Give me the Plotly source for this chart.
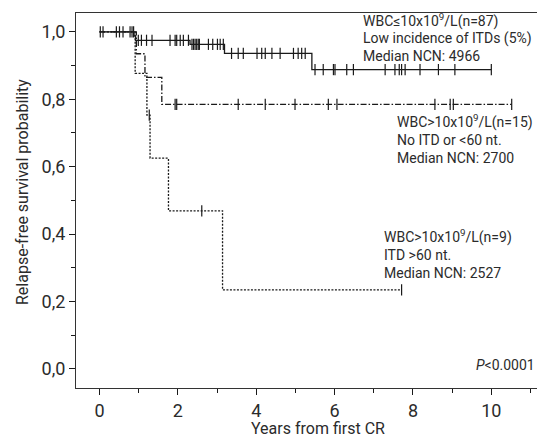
import plotly.graph_objects as go
import numpy as np

# ---- data ----
# Curve A: WBC<=10x10^9/L (n=87), solid
a_time = [0.0, 0.88, 0.92, 2.31, 3.19, 5.42, 10.0]
a_surv = [1.0, 0.988, 0.975, 0.963, 0.936, 0.888, 0.888]
a_cens = [0.02, 0.09, 0.43, 0.51, 0.60, 0.78, 0.83, 0.87,
          0.99, 1.07, 1.20, 1.34, 1.80, 1.93, 1.97, 2.06, 2.14, 2.27,
          2.36, 2.40, 2.44, 2.48, 2.52, 2.55,
          2.78, 2.89, 3.01, 3.08, 3.16,
          3.37, 3.54, 3.67, 4.02, 4.14, 4.23, 4.40, 4.61, 4.95, 5.07, 5.16, 5.25,
          5.50, 5.71, 5.97, 6.01, 6.31, 6.48, 7.29, 7.54, 7.65, 7.71, 7.80,
          8.18, 8.65, 9.07, 10.0]

# Curve B: WBC>10x10^9/L (n=15), no ITD or <60 nt, dash-dot
b_time = [0.0, 0.94, 1.16, 1.59, 10.52]
b_surv = [1.0, 0.935, 0.865, 0.785, 0.785]
b_cens = [1.93, 1.97, 3.54, 4.23, 4.99, 5.84, 6.06, 8.56, 8.95, 9.03, 10.52]

# Curve C: WBC>10x10^9/L (n=9), ITD >60 nt, dotted
c_time = [0.0, 0.91, 1.21, 1.29, 1.76, 3.14, 7.71]
c_surv = [1.0, 0.877, 0.753, 0.625, 0.469, 0.234, 0.234]
c_cens = [1.27, 2.61, 7.71]

x_ticks = [0, 2, 4, 6, 8, 10]
y_ticks = [0.0, 0.2, 0.4, 0.6, 0.8, 1.0]
y_ticklabels = ["0,0", "0,2", "0,4", "0,6", "0,8", "1,0"]


def step_value(times, surv, t):
    idx = np.searchsorted(np.array(times), t, side="right") - 1
    return surv[max(idx, 0)]


FONT = "Roboto, Liberation Sans, sans-serif"
TXT = "#2b2b2b"
LINE = "#1a1a1a"

# the page body has an 8px margin, so the figure is sized to fit inside it
OFF = 8
W, H = 545 - OFF, 441 - OFF
ML, MR, MT = 76 - OFF, 0, 13 - OFF
MB = H - (388 - OFF)
PW, PH = W - ML - MR, H - MT - MB

fig = go.Figure()

curves = [
    (c_time, c_surv, c_cens, "2px,1.5px"),
    (b_time, b_surv, b_cens, "6px,2px,1.5px,2px"),
    (a_time, a_surv, a_cens, "solid"),
]
for t, s, cens, dash in curves:
    fig.add_trace(go.Scatter(x=t, y=s, mode="lines", line_shape="hv",
                             line=dict(color=LINE, width=1.3, dash=dash),
                             hoverinfo="skip", showlegend=False))
    fig.add_trace(go.Scatter(x=cens, y=[step_value(t, s, v) for v in cens],
                             mode="markers",
                             marker=dict(symbol="line-ns", size=8,
                                         line=dict(color=LINE, width=1.2)),
                             hoverinfo="skip", showlegend=False))

ANN = 14
ann = [
    (6.68, 1.035, "WBC≤10x10<sup>9</sup>/L(n=87)"),
    (6.68, 0.981, "Low incidence of ITDs (5%)"),
    (6.68, 0.928, "Median NCN: 4966"),
    (7.54, 0.733, "WBC>10x10<sup>9</sup>/L(n=15)"),
    (7.54, 0.679, "No ITD or <60 nt."),
    (7.54, 0.626, "Median NCN: 2700"),
    (7.20, 0.392, "WBC>10x10<sup>9</sup>/L(n=9)"),
    (7.20, 0.338, "ITD >60 nt."),
    (7.20, 0.284, "Median NCN: 2527"),
]
for x, y, txt in ann:
    fig.add_annotation(x=x, y=y, text=txt, showarrow=False, xanchor="left",
                       yanchor="middle", font=dict(family=FONT, size=ANN, color=TXT))
fig.add_annotation(x=11.16, y=0.012, text="<i>P</i><0.0001", showarrow=False,
                   xanchor="right", yanchor="middle",
                   font=dict(family=FONT, size=ANN, color=TXT))

# axis titles placed as annotations (page pixel positions -> paper coords)
fig.add_annotation(xref="paper", yref="paper",
                   x=(318 - OFF - ML) / PW, y=(H - MB - (428 - OFF)) / PH,
                   text="Years from first CR", showarrow=False,
                   xanchor="center", yanchor="middle",
                   font=dict(family=FONT, size=16, color=TXT))
fig.add_annotation(xref="paper", yref="paper",
                   x=(22 - OFF - ML) / PW, y=(H - MB - (192 - OFF)) / PH,
                   text="Relapse-free survival probability", showarrow=False,
                   textangle=-90, xanchor="center", yanchor="middle",
                   font=dict(family=FONT, size=16, color=TXT))

fig.update_layout(
    width=W, height=H, autosize=False,
    margin=dict(l=ML, r=MR, t=MT, b=MB, pad=0, autoexpand=False),
    paper_bgcolor="white", plot_bgcolor="white",
    font=dict(family=FONT, color=TXT),
    xaxis=dict(range=[-0.6, 11.37], tickvals=x_ticks, ticks="outside", ticklen=6,
               tickcolor=LINE, showline=True, linecolor="#333", linewidth=1.2,
               mirror=True, showgrid=False, zeroline=False, automargin=False,
               tickfont=dict(family=FONT, size=18, color=TXT),
               minor=dict(dtick=1, tick0=1, ticks="outside", ticklen=4, tickcolor=LINE)),
    yaxis=dict(range=[-0.057, 1.056], tickvals=y_ticks, ticktext=y_ticklabels,
               ticks="outside", ticklen=6, tickcolor=LINE,
               showline=True, linecolor="#333", linewidth=1.2,
               showgrid=False, zeroline=False, automargin=False,
               tickfont=dict(family=FONT, size=18, color=TXT),
               minor=dict(dtick=0.1, tick0=0.1, ticks="outside", ticklen=4, tickcolor=LINE)),
)

fig.write_html("out.html")
